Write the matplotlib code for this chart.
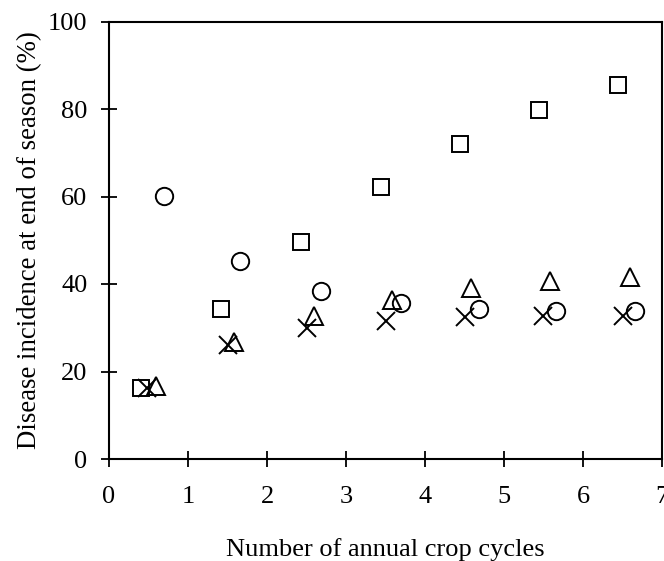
import numpy as np
import matplotlib.pyplot as plt

plt.rcParams["font.family"] = ["Liberation Serif", "DejaVu Serif"]

# disease incidence (%) vs number of annual crop cycles, four treatments
sq_x = [0.41, 1.42, 2.43, 3.44, 4.44, 5.44, 6.44]
sq_y = [16.2, 34.4, 49.7, 62.2, 72.0, 79.7, 85.5]

circ_x = [0.69, 1.66, 2.68, 3.69, 4.68, 5.66, 6.66]
circ_y = [60.2, 45.2, 38.3, 35.6, 34.3, 33.9, 33.8]

tri_x = [0.59, 1.58, 2.59, 3.58, 4.58, 5.58, 6.59]
tri_y = [16.8, 26.8, 32.8, 36.4, 39.1, 40.7, 41.5]

cross_x = [0.48, 1.51, 2.50, 3.51, 4.51, 5.49, 6.51]
cross_y = [16.3, 26.0, 29.9, 31.5, 32.5, 32.8, 32.8]

xticks = [0, 1, 2, 3, 4, 5, 6, 7]
yticks = [0, 20, 40, 60, 80, 100]

fig = plt.figure(figsize=(6.64, 5.61), dpi=100)
ax = fig.add_axes([109 / 664, (561 - 459) / 561, (662 - 109) / 664, (459 - 21.5) / 561])

mk = dict(linestyle="none", markerfacecolor="none", markeredgecolor="black",
          markeredgewidth=1.4, clip_on=False)
ax.plot(sq_x, sq_y, marker="s", markersize=12, **mk)
ax.plot(circ_x, circ_y, marker="o", markersize=12.5, **mk)
ax.plot(tri_x, tri_y, marker="^", markersize=12.5, **mk)
ax.plot(cross_x, cross_y, marker="x", markersize=12.5, **mk)

ax.set_xlim(0, 7)
ax.set_ylim(0, 100)
ax.set_xticks(xticks)
ax.set_yticks(yticks)
ax.tick_params(direction="inout", length=11, width=1.3, labelsize=19,
               colors="black")
ax.tick_params(axis="x", pad=14)
ax.tick_params(axis="y", pad=10)
for s in ax.spines.values():
    s.set_linewidth(1.5)

fig.text(0.045, (561 - 240) / 561, "Disease incidence at end of season (%)",
         rotation=90, ha="center", va="center", fontsize=19.3)
fig.text(385 / 664, 1 - 550 / 561, "Number of annual crop cycles",
         ha="center", va="center", fontsize=19)

fig.savefig("out.png", dpi=100)
